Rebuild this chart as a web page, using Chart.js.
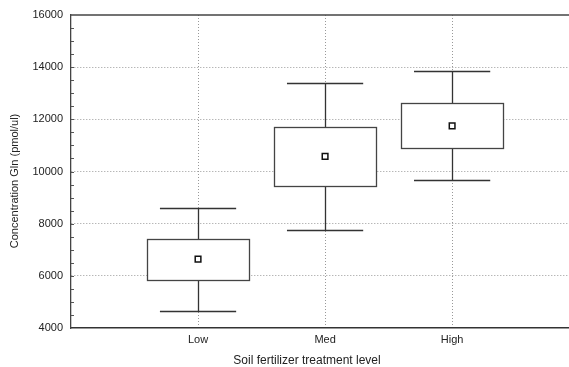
<!DOCTYPE html>
<html>
<head>
<meta charset="utf-8">
<script src="https://cdn.jsdelivr.net/npm/chart.js@4.4.1/dist/chart.umd.min.js"></script>
<style>
  html, body { margin: 0; padding: 0; background: #fff; overflow: hidden; }
  #wrap { width: 569px; height: 367px; position: relative; }
</style>
</head>
<body>
<div id="wrap"><canvas id="chart" width="569" height="367"></canvas></div>
<script>
// === data ===
const categories = ["Low", "Med", "High"];
const whiskerLow = [4660, 7770, 9680];
const boxLow = [5850, 9430, 10900];
const means = [6640, 10580, 11750];
const boxHigh = [7430, 11720, 12620];
const whiskerHigh = [8600, 13390, 13850];
const yTicks = [4000, 6000, 8000, 10000, 12000, 14000, 16000];

const xTitle = "Soil fertilizer treatment level";
const yTitle = "Concentration Gln (pmol/ul)";

const FONT = "'Liberation Sans', Arial, sans-serif";
const INK = "#222";

// boxes, whiskers, top border, minor ticks, axis titles
const boxPlot = {
  id: "boxPlot",
  beforeDatasetsDraw(chart) {
    const { ctx, scales: { x, y } } = chart;
    ctx.save();
    categories.forEach((c, i) => {
      const cx = Math.round(x.getPixelForValue(i + 1)) + 0.5;
      const capL = x.getPixelForValue(i + 1 - 0.3);
      const capR = x.getPixelForValue(i + 1 + 0.3);
      const boxL = Math.round(x.getPixelForValue(i + 1 - 0.4)) + 0.5;
      const boxR = Math.round(x.getPixelForValue(i + 1 + 0.4)) + 0.5;
      const yLo = Math.round(y.getPixelForValue(whiskerLow[i])) + 0.5;
      const yHi = Math.round(y.getPixelForValue(whiskerHigh[i])) + 0.5;
      const yB = Math.round(y.getPixelForValue(boxLow[i])) + 0.5;
      const yT = Math.round(y.getPixelForValue(boxHigh[i])) + 0.5;
      // whiskers
      ctx.strokeStyle = "#333";
      ctx.lineWidth = 1.3;
      ctx.beginPath();
      ctx.moveTo(cx, yLo); ctx.lineTo(cx, yB);
      ctx.moveTo(cx, yT); ctx.lineTo(cx, yHi);
      ctx.moveTo(capL, yLo); ctx.lineTo(capR, yLo);
      ctx.moveTo(capL, yHi); ctx.lineTo(capR, yHi);
      ctx.stroke();
      // box
      ctx.fillStyle = "#fff";
      ctx.fillRect(boxL, yT, boxR - boxL, yB - yT);
      ctx.strokeStyle = "#444";
      ctx.strokeRect(boxL, yT, boxR - boxL, yB - yT);
    });
    ctx.restore();
  },
  afterDraw(chart) {
    const { ctx, chartArea: a, scales: { y } } = chart;
    ctx.save();
    // top frame line
    ctx.strokeStyle = "#444";
    ctx.lineWidth = 1.5;
    ctx.beginPath();
    ctx.moveTo(a.left, a.top);
    ctx.lineTo(a.right, a.top);
    ctx.stroke();
    // minor ticks on the left axis, pointing in
    ctx.lineWidth = 1;
    ctx.strokeStyle = "#555";
    ctx.beginPath();
    for (let v = y.min + 500; v < y.max; v += 500) {
      const py = Math.round(y.getPixelForValue(v)) + 0.5;
      ctx.moveTo(a.left, py);
      ctx.lineTo(a.left + 3, py);
    }
    ctx.stroke();
    // axis titles
    ctx.fillStyle = INK;
    ctx.textAlign = "center";
    ctx.textBaseline = "middle";
    ctx.font = "12px " + FONT;
    ctx.fillText(xTitle, 307, 361);
    ctx.font = "11px " + FONT;
    ctx.translate(15, 181);
    ctx.rotate(-Math.PI / 2);
    ctx.fillText(yTitle, 0, 0);
    ctx.restore();
  }
};

new Chart(document.getElementById("chart"), {
  type: "scatter",
  data: {
    datasets: [
      {
        data: categories.map((c, i) => ({ x: i + 1, y: means[i] })),
        pointStyle: "rect",
        pointRadius: 4,
        backgroundColor: "#fff",
        borderColor: "#111",
        borderWidth: 1.5
      }
    ]
  },
  plugins: [boxPlot],
  options: {
    responsive: false,
    animation: false,
    layout: { autoPadding: false, padding: { top: 15, right: 0, bottom: 0, left: 0 } },
    plugins: { legend: { display: false }, tooltip: { enabled: false } },
    scales: {
      x: {
        type: "linear",
        min: 0,
        max: 3.92,
        afterBuildTicks: (s) => { s.ticks = categories.map((c, i) => ({ value: i + 1 })); },
        afterFit: (s) => { s.height = 39; },
        ticks: {
          callback: (v) => categories[v - 1],
          color: INK,
          font: { family: FONT, size: 11 },
          padding: 5,
          autoSkip: false,
          maxRotation: 0
        },
        grid: { color: "#999", lineWidth: 1, drawTicks: false },
        border: { display: true, color: "#333", width: 1.5, dash: [1, 2] }
      },
      y: {
        min: 4000,
        max: 16000,
        afterBuildTicks: (s) => { s.ticks = yTicks.map(v => ({ value: v })); },
        afterFit: (s) => { s.width = 71; },
        ticks: {
          callback: (v) => String(v),
          color: INK,
          font: { family: FONT, size: 11 },
          padding: 8
        },
        grid: {
          color: (c) => (c.tick && (c.tick.value === 4000 || c.tick.value === 16000)) ? "rgba(0,0,0,0)" : "#999",
          lineWidth: 1,
          drawTicks: false
        },
        border: { display: true, color: "#444", width: 1.3, dash: [1, 2] }
      }
    }
  }
});
</script>
</body>
</html>
